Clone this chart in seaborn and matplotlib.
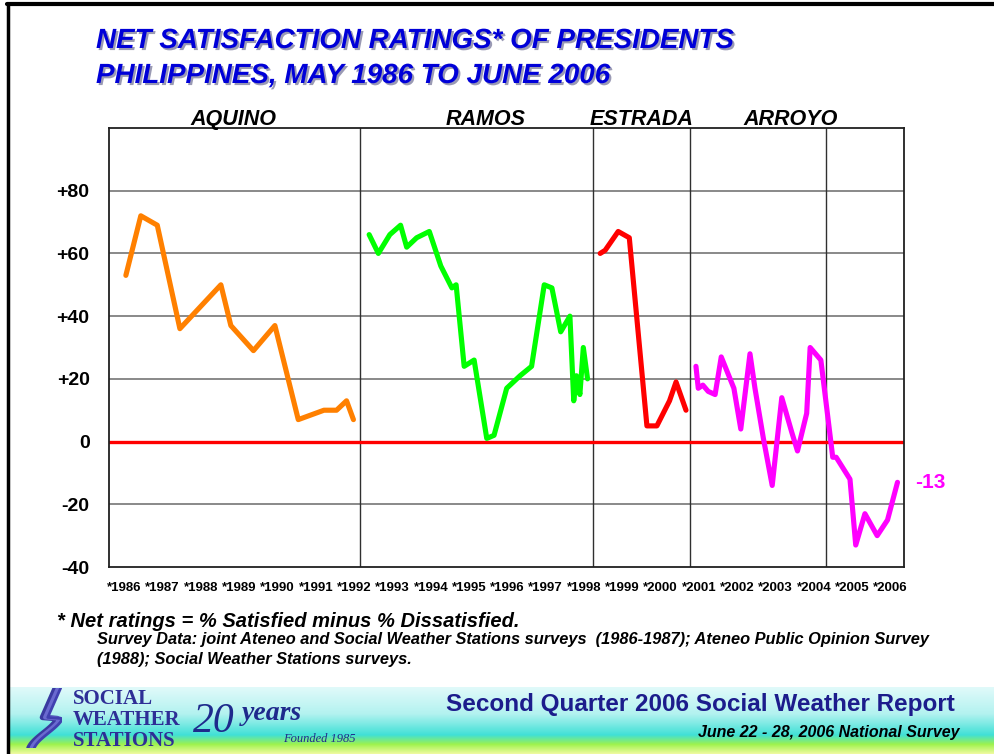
import numpy as np
import pandas as pd
import seaborn as sns
from matplotlib import pyplot as plt
from matplotlib import patheffects
from matplotlib.lines import Line2D

# survey dates (fractional years) and net satisfaction ratings
aquino_t = [1986.44, 1986.83, 1987.26, 1987.85, 1988.92, 1989.18, 1989.77, 1990.33,
            1990.94, 1991.61, 1991.94, 1992.20, 1992.38]
aquino_v = [53, 72, 69, 36, 50, 37, 29, 37, 7, 10, 10, 13, 7]

ramos_t = [1992.79, 1993.03, 1993.33, 1993.61, 1993.77, 1994.03, 1994.36, 1994.66,
           1994.95, 1995.06, 1995.27, 1995.53, 1995.86, 1996.05, 1996.38, 1996.73,
           1997.03, 1997.36, 1997.56, 1997.79, 1998.03, 1998.13, 1998.20, 1998.29,
           1998.38, 1998.49]
ramos_v = [66, 60, 66, 69, 62, 65, 67, 56, 49, 50, 24, 26, 1, 2, 17, 21,
           24, 50, 49, 35, 40, 13, 21, 15, 30, 20]

estrada_t = [1998.82, 1998.95, 1999.29, 1999.58, 2000.04, 2000.30, 2000.63, 2000.80, 2001.06]
estrada_v = [60, 61, 67, 65, 5, 5, 13, 19, 10]

arroyo_t = [2001.32, 2001.38, 2001.50, 2001.64, 2001.82, 2001.98, 2002.31, 2002.49,
            2002.73, 2002.86, 2003.08, 2003.31, 2003.56, 2003.82, 2003.97, 2004.21,
            2004.30, 2004.58, 2004.89, 2004.98, 2005.34, 2005.49, 2005.73, 2006.05,
            2006.32, 2006.58]
arroyo_v = [24, 17, 18, 16, 15, 27, 17, 4, 28, 17, 1, -14, 14, 3, -3, 9,
            30, 26, -5, -5, -12, -33, -23, -30, -25, -13]

presidents = ['AQUINO', 'RAMOS', 'ESTRADA', 'ARROYO']
name_px = [233, 486, 642, 791]
colors = ['#ff8000', '#00ff00', '#ff0000', '#ff00ff']
dividers = [1992.55, 1998.63, 2001.17, 2004.72]
years = list(range(1986, 2007))
y_ticks = [-40, -20, 0, 20, 40, 60, 80]
y_labels = ['-40', '-20', '0', '+20', '+40', '+60', '+80']

df = pd.concat([
    pd.DataFrame({'t': aquino_t, 'net': aquino_v, 'president': 'AQUINO'}),
    pd.DataFrame({'t': ramos_t, 'net': ramos_v, 'president': 'RAMOS'}),
    pd.DataFrame({'t': estrada_t, 'net': estrada_v, 'president': 'ESTRADA'}),
    pd.DataFrame({'t': arroyo_t, 'net': arroyo_v, 'president': 'ARROYO'}),
], ignore_index=True)

sns.set_style('white')
plt.rcParams['font.family'] = ['Liberation Sans', 'DejaVu Sans']
plt.rcParams['text.color'] = 'black'
plt.rcParams['xtick.color'] = 'black'
plt.rcParams['ytick.color'] = 'black'

W, H = 994, 754
fig = plt.figure(figsize=(W / 100, H / 100), dpi=100)


def fx(px):
    return px / W


def fy(py):
    return 1 - py / H


ax = fig.add_axes([fx(109), fy(567), fx(904) - fx(109), fy(128) - fy(567)])
for v in [-20, 20, 40, 60, 80]:
    ax.axhline(v, color='#808080', lw=1.3, zorder=0)
for d in dividers:
    ax.axvline(d, color='#303030', lw=1.0, zorder=0)
ax.axhline(0, color='#ff0000', lw=2.4, zorder=1)

sns.lineplot(data=df, x='t', y='net', hue='president', hue_order=presidents,
             palette=colors, estimator=None, sort=False, linewidth=3.7,
             legend=False, ax=ax, zorder=3)

ax.set_xlim(1986, 2006.75)
ax.set_ylim(-40, 100)
ax.set_yticks(y_ticks)
ax.set_yticklabels(y_labels, fontsize=14, fontweight='bold')
ax.set_xticks([y + 0.4 for y in years])
ax.set_xticklabels(['*%d' % y for y in years], fontsize=9.5, fontweight='bold')
ax.tick_params(axis='y', length=0, pad=14)
ax.tick_params(axis='x', length=0, pad=11)
ax.set_xlabel('')
ax.set_ylabel('')
for s in ax.spines.values():
    s.set_color('#202020')
    s.set_linewidth(1.3)

ax.annotate(str(arroyo_v[-1]), xy=(arroyo_t[-1], arroyo_v[-1]), xytext=(13, 0),
            textcoords='offset points', color='#ff00ff', fontsize=15,
            fontweight='bold', va='center', annotation_clip=False)

# president names above the plot
for name, px in zip(presidents, name_px):
    fig.text(fx(px), fy(125), name, ha='center', va='baseline', fontsize=15.5,
             fontweight='bold', style='italic')

# title with a soft shadow
shadow = [patheffects.withSimplePatchShadow(offset=(1.5, -1.5), shadow_rgbFace='#9a9ab4',
                                            alpha=1.0)]
title = ['NET SATISFACTION RATINGS* OF PRESIDENTS', 'PHILIPPINES, MAY 1986 TO JUNE 2006']
for i, line in enumerate(title):
    fig.text(fx(96), fy(48 + 35 * i), line, ha='left', va='baseline', fontsize=20,
             fontweight='bold', style='italic', color='#0000d8', path_effects=shadow)

# footnotes
fig.text(fx(57), fy(627), '* Net ratings = % Satisfied minus % Dissatisfied.',
         fontsize=14.5, fontweight='bold', style='italic', va='baseline')
fig.text(fx(97), fy(644), 'Survey Data: joint Ateneo and Social Weather Stations surveys  '
         '(1986-1987); Ateneo Public Opinion Survey', fontsize=11.8,
         fontweight='bold', style='italic', va='baseline')
fig.text(fx(97), fy(664), '(1988); Social Weather Stations surveys.', fontsize=11.8,
         fontweight='bold', style='italic', va='baseline')

# banner at the bottom
band = fig.add_axes([fx(10), 0, 1 - fx(10), fy(687)])
stops = np.array([0.0, 0.4, 0.72, 0.86, 1.0])
cols = np.array([[0.88, 0.98, 0.98], [0.70, 0.95, 0.94], [0.25, 0.88, 0.84],
                 [0.62, 0.95, 0.30], [0.93, 0.98, 0.62]])
rows = np.linspace(0, 1, 60)
grad = np.stack([np.interp(rows, stops, cols[:, c]) for c in range(3)], axis=1)
band.imshow(np.repeat(grad[:, None, :], 2, axis=1), aspect='auto', extent=(0, 1, 0, 1))
band.set_xlim(0, 1)
band.set_ylim(0, 1)
band.axis('off')

fig.text(fx(700), fy(705), 'Second Quarter 2006 Social Weather Report', ha='center',
         va='center', fontsize=17.5, fontweight='bold', color='#1c1c8c')
fig.text(fx(960), fy(732), 'June 22 - 28, 2006 National Survey', ha='right',
         va='center', fontsize=11.5, fontweight='bold', style='italic', color='black')

# logo
for i, word in enumerate(['SOCIAL', 'WEATHER', 'STATIONS']):
    fig.text(fx(73), fy(699 + 21 * i), word, ha='left', va='center', fontsize=15,
             fontweight='bold', family='Liberation Serif', color='#2e2e96')
fig.text(fx(193), fy(722), '20', ha='left', va='center', fontsize=30,
         style='italic', family='Liberation Serif', color='#1e2a8c')
fig.text(fx(242), fy(713), 'years', ha='left', va='center', fontsize=20,
         style='italic', fontweight='bold', family='Liberation Serif', color='#1e2a8c')
fig.text(fx(283), fy(739), 'Founded 1985', ha='left', va='center', fontsize=9,
         style='italic', family='Liberation Serif', color='#1e2a8c')
swoosh = fig.add_axes([fx(18), fy(748), fx(62) - fx(18), fy(688) - fy(748)])
s = np.linspace(0, 1, 50)
for k, c in enumerate(['#3a3aa0', '#6a6ad0', '#4040b0']):
    off = k * 0.12
    swoosh.plot(0.85 - 0.6 * s + 0.35 * np.sin(np.pi * s) ** 2 * (s > 0.5) + off * 0.5,
                1 - s, color=c, lw=4 - k)
swoosh.set_xlim(0, 1)
swoosh.set_ylim(0, 1)
swoosh.axis('off')

# slide frame
fig.add_artist(Line2D([fx(7), 1], [fy(4), fy(4)], color='black', lw=3))
fig.add_artist(Line2D([fx(8), fx(8)], [0, fy(4)], color='black', lw=2.5))

fig.savefig('out.png', dpi=100)
